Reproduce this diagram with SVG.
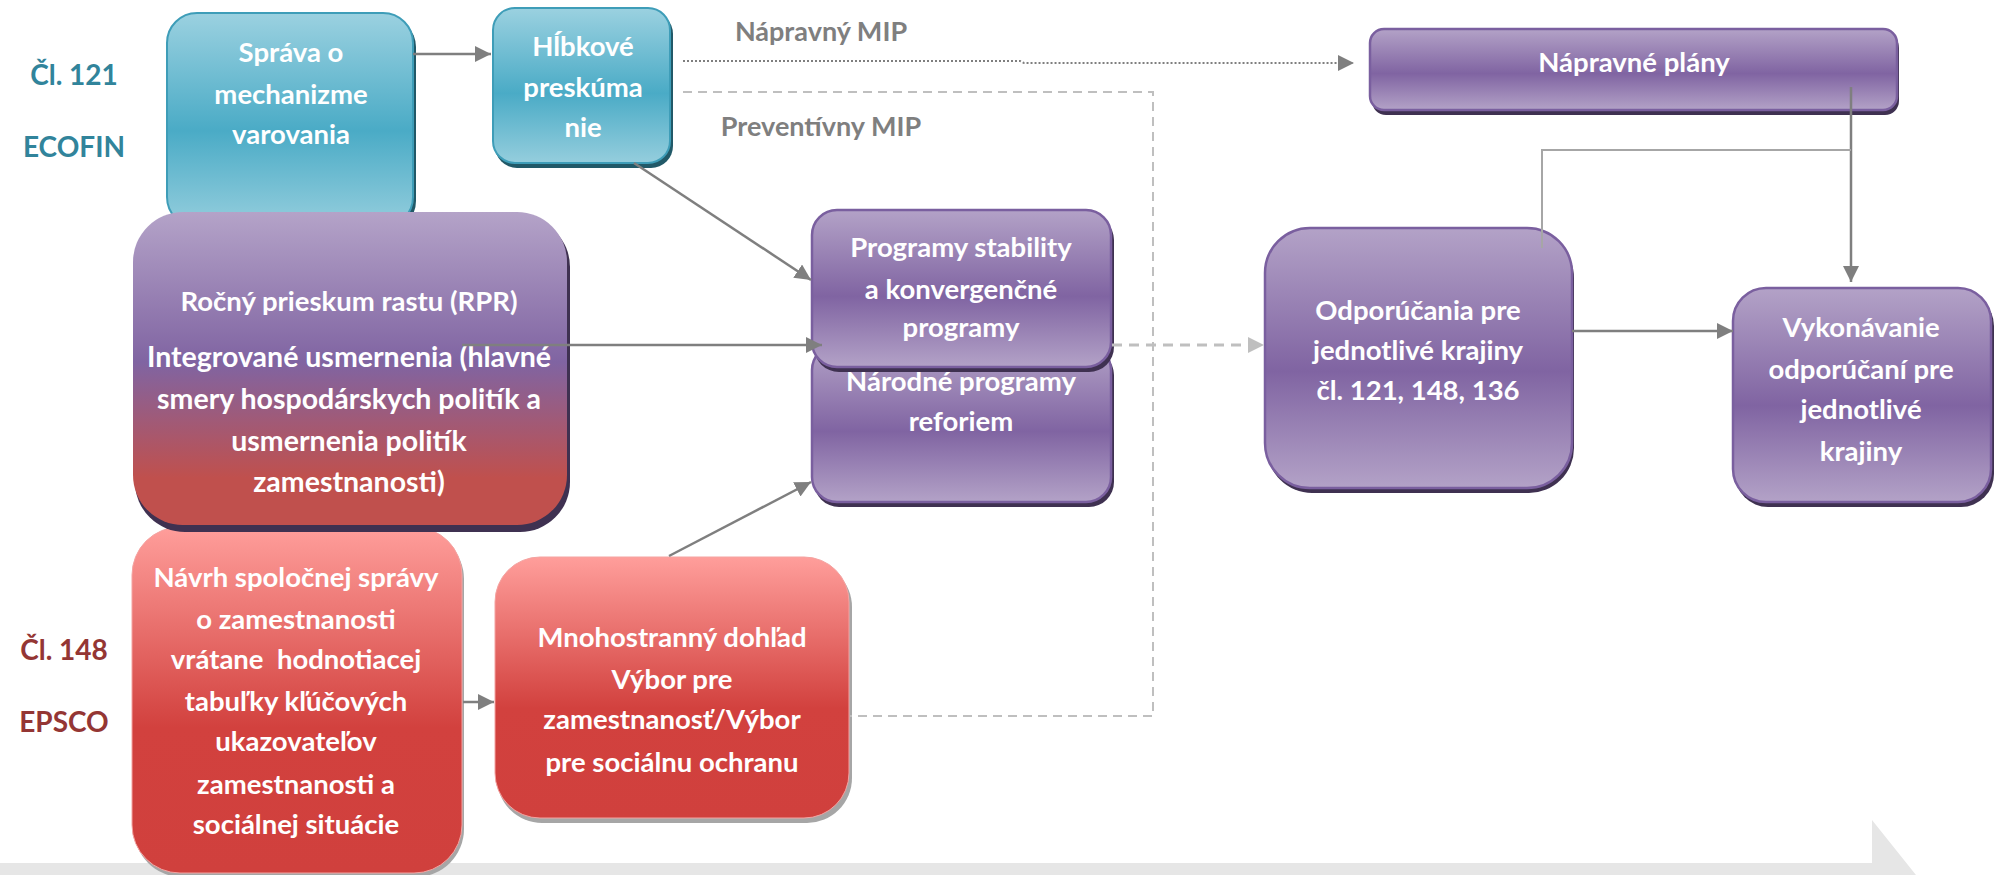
<svg xmlns="http://www.w3.org/2000/svg" width="1999" height="875" viewBox="0 0 1999 875">
<style>
.t{font-family:"Lato","Liberation Sans",sans-serif;font-weight:bold;font-size:27.5px;fill:#fff;text-anchor:middle}
.lbl{font-family:"Lato","Liberation Sans",sans-serif;font-weight:bold;font-size:28px;text-anchor:middle}
.gl{font-family:"Lato","Liberation Sans",sans-serif;font-weight:bold;font-size:27px;fill:#7F7F7F;text-anchor:middle}
.teal{fill:url(#gTeal);stroke:#3E9DB8;stroke-width:2}
.tealS{fill:#215968}
.pur{fill:url(#gPur);stroke:#7A5F9F;stroke-width:2.5}
.purS{fill:#3F3151}
.red{fill:url(#gRed);stroke:#F4A3A1;stroke-width:1}
.redS{fill:#A6A6A6}
.c{fill:none;stroke:#7F7F7F;stroke-width:2.5}
</style>
<defs>
<linearGradient id="gTeal" x1="0" y1="0" x2="0" y2="1">
<stop offset="0" stop-color="#9BD1E0"/><stop offset="0.55" stop-color="#4AABC6"/><stop offset="1" stop-color="#95CEDD"/>
</linearGradient>
<linearGradient id="gPur" x1="0" y1="0" x2="0" y2="1">
<stop offset="0" stop-color="#B3A2C7"/><stop offset="0.55" stop-color="#8064A2"/><stop offset="1" stop-color="#B3A2C7"/>
</linearGradient>
<linearGradient id="gRPR" x1="0" y1="0" x2="0" y2="1">
<stop offset="0" stop-color="#B4A3C8"/><stop offset="0.48" stop-color="#8064A2"/><stop offset="0.85" stop-color="#C0504D"/><stop offset="1" stop-color="#C0504D"/>
</linearGradient>
<linearGradient id="gRed" x1="0" y1="0" x2="0" y2="1">
<stop offset="0" stop-color="#FF9E9B"/><stop offset="0.58" stop-color="#D2413E"/><stop offset="1" stop-color="#D0403D"/>
</linearGradient>
<marker id="ah" markerUnits="userSpaceOnUse" markerWidth="16" markerHeight="16" viewBox="0 0 16 16" refX="16" refY="8" orient="auto">
<path d="M0,0 L16,8 L0,16 Z" fill="#7F7F7F"/>
</marker>
<marker id="ahL" markerUnits="userSpaceOnUse" markerWidth="16" markerHeight="16" viewBox="0 0 16 16" refX="16" refY="8" orient="auto">
<path d="M0,0 L16,8 L0,16 Z" fill="#BFBFBF"/>
</marker>
</defs>
<rect width="1999" height="875" fill="#fff"/>
<polygon id="timeline" points="0,863 1872,863 1872,820 1916,875 0,875" fill="#E6E6E6"/>

<g id="labels">
<text class="lbl" x="74" y="85" fill="#31849B">Čl. 121</text>
<text class="lbl" x="74" y="157" fill="#31849B">ECOFIN</text>
<text class="lbl" x="64" y="660" fill="#943634">Čl. 148</text>
<text class="lbl" x="64" y="732" fill="#943634">EPSCO</text>
<text class="gl" x="821" y="41">Nápravný MIP</text>
<text class="gl" x="821" y="136">Preventívny MIP</text>
</g>

<g id="sprava">
<rect class="tealS" x="169" y="17" width="247" height="214" rx="30"/>
<rect class="teal" x="167" y="13" width="246" height="214" rx="30"/>
<text class="t" x="291" y="62">Správa o</text>
<text class="t" x="291" y="104">mechanizme</text>
<text class="t" x="291" y="144">varovania</text>
</g>

<g id="hlbkove">
<rect class="tealS" x="495" y="12" width="178" height="156" rx="22"/>
<rect class="teal" x="493" y="8" width="177" height="155" rx="22"/>
<text class="t" x="583" y="56">Hĺbkové</text>
<text class="t" x="583" y="97">preskúma</text>
<text class="t" x="583" y="137">nie</text>
</g>

<g id="npr">
<rect class="purS" x="814" y="350" width="300" height="157" rx="25"/>
<rect class="pur" x="812" y="345" width="299" height="157" rx="25"/>
<text class="t" x="961" y="391">Národné programy</text>
<text class="t" x="961" y="431">reforiem</text>
</g>

<g id="programy">
<rect class="purS" x="814" y="215" width="300" height="157" rx="25"/>
<rect class="pur" x="812" y="210" width="299" height="157" rx="25"/>
<text class="t" x="961" y="257">Programy stability</text>
<text class="t" x="961" y="299">a konvergenčné</text>
<text class="t" x="961" y="337">programy</text>
</g>

<g id="navrh">
<rect class="redS" x="134" y="531" width="330" height="346" rx="48"/>
<rect class="red" x="132" y="527" width="330" height="346" rx="48"/>
<text class="t" x="296" y="587">Návrh spoločnej správy</text>
<text class="t" x="296" y="629">o zamestnanosti</text>
<text class="t" x="296" y="669" style="white-space:pre">vrátane  hodnotiacej</text>
<text class="t" x="296" y="711">tabuľky kľúčových</text>
<text class="t" x="296" y="751">ukazovateľov</text>
<text class="t" x="296" y="794">zamestnanosti a</text>
<text class="t" x="296" y="834">sociálnej situácie</text>
</g>

<g id="rpr">
<rect class="purS" x="135" y="217" width="435" height="315" rx="50"/>
<rect x="133" y="212" width="434" height="313" rx="50" fill="url(#gRPR)"/>
<text class="t" x="349" y="311">Ročný prieskum rastu (RPR)</text>
<text class="t" x="349" y="367" style="font-size:28.5px">Integrované usmernenia (hlavné</text>
<text class="t" x="349" y="409" style="font-size:28.5px">smery hospodárskych politík a</text>
<text class="t" x="349" y="451" style="font-size:28.5px">usmernenia politík</text>
<text class="t" x="349" y="492" style="font-size:28.5px">zamestnanosti)</text>
</g>

<g id="mnohostranny">
<rect class="redS" x="497" y="562" width="355" height="261" rx="45"/>
<rect class="red" x="495" y="557" width="354" height="261" rx="45"/>
<text class="t" x="672" y="647">Mnohostranný dohľad</text>
<text class="t" x="672" y="689">Výbor pre</text>
<text class="t" x="672" y="729">zamestnanosť/Výbor</text>
<text class="t" x="672" y="772">pre sociálnu ochranu</text>
</g>

<g id="napravne">
<rect class="purS" x="1372" y="34" width="527" height="81" rx="14"/>
<rect class="pur" x="1370" y="29" width="527" height="81" rx="14"/>
<text class="t" x="1634" y="72">Nápravné plány</text>
</g>

<g id="odporucania">
<rect class="purS" x="1267" y="233" width="307" height="260" rx="45"/>
<rect class="pur" x="1265" y="228" width="307" height="260" rx="45"/>
<text class="t" x="1418" y="320">Odporúčania pre</text>
<text class="t" x="1418" y="360">jednotlivé krajiny</text>
<text class="t" x="1418" y="400">čl. 121, 148, 136</text>
</g>

<g id="vykonavanie">
<rect class="purS" x="1735" y="293" width="259" height="214" rx="33"/>
<rect class="pur" x="1733" y="288" width="258" height="214" rx="33"/>
<text class="t" x="1861" y="337">Vykonávanie</text>
<text class="t" x="1861" y="379">odporúčaní pre</text>
<text class="t" x="1861" y="419">jednotlivé</text>
<text class="t" x="1861" y="461">krajiny</text>
</g>

<g id="connectors">
<line class="c" x1="413" y1="54" x2="491" y2="54" marker-end="url(#ah)"/>
<polyline fill="none" stroke="#7F7F7F" stroke-width="2" stroke-dasharray="2 2" points="683,61 1020,61 1024,63 1354,63" marker-end="url(#ah)"/>
<polyline fill="none" stroke="#BFBFBF" stroke-width="2" stroke-dasharray="9 6" points="683,92 1153,92 1153,716 850,716"/>
<line class="c" x1="634" y1="163" x2="811" y2="280" marker-end="url(#ah)"/>
<line class="c" x1="462" y1="345" x2="822" y2="345" marker-end="url(#ah)"/>
<line class="c" x1="669" y1="556" x2="811" y2="482" marker-end="url(#ah)"/>
<line class="c" x1="463" y1="702" x2="494" y2="702" marker-end="url(#ah)"/>
<line fill="none" stroke="#BFBFBF" stroke-width="3" stroke-dasharray="10 7" x1="1112" y1="345" x2="1264" y2="345" marker-end="url(#ahL)"/>
<line class="c" x1="1572" y1="331" x2="1733" y2="331" marker-end="url(#ah)"/>
<line class="c" x1="1851" y1="87" x2="1851" y2="282" marker-end="url(#ah)"/>
<polyline fill="none" stroke="#A6A6A6" stroke-width="2" points="1542,248 1542,150 1851,150"/>
</g>
</svg>
